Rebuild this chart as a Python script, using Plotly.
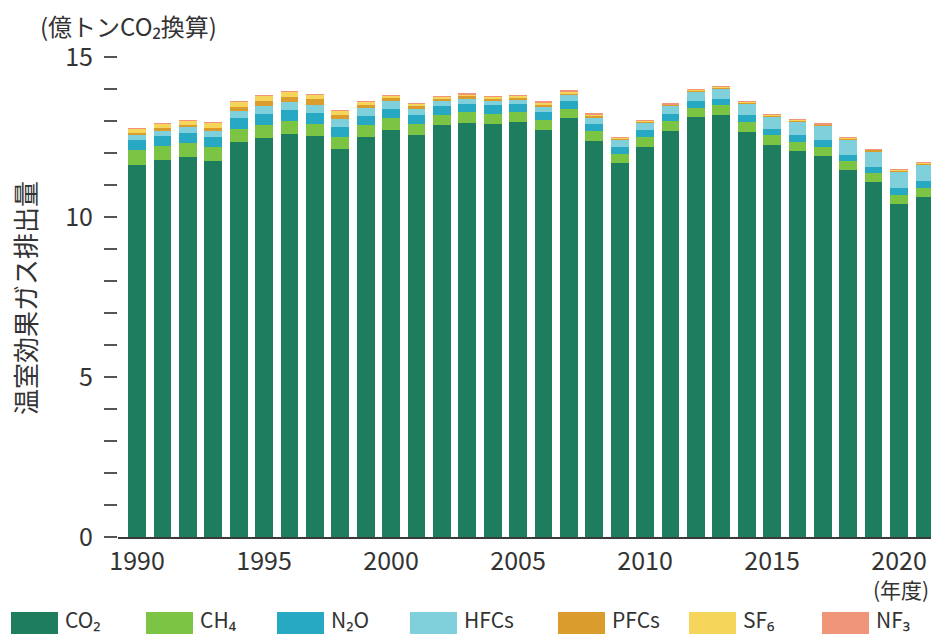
import plotly.graph_objects as go

# ---- data (億トンCO2換算) ----
years = list(range(1990, 2022))
co2 = [11.64, 11.77, 11.86, 11.75, 12.34, 12.46, 12.59, 12.53, 12.12, 12.50,
       12.72, 12.56, 12.86, 12.95, 12.90, 12.96, 12.72, 13.08, 12.38, 11.68,
       12.20, 12.70, 13.12, 13.19, 12.67, 12.26, 12.06, 11.91, 11.46, 11.08,
       10.42, 10.64]
ch4 = [0.45, 0.44, 0.44, 0.43, 0.42, 0.42, 0.40, 0.39, 0.38, 0.37,
       0.36, 0.35, 0.34, 0.33, 0.33, 0.32, 0.32, 0.31, 0.31, 0.30,
       0.30, 0.30, 0.30, 0.30, 0.30, 0.29, 0.29, 0.29, 0.29, 0.28,
       0.28, 0.27]
n2o = [0.32, 0.32, 0.32, 0.32, 0.33, 0.33, 0.34, 0.34, 0.32, 0.30,
       0.30, 0.27, 0.26, 0.26, 0.26, 0.25, 0.25, 0.24, 0.23, 0.22,
       0.22, 0.21, 0.21, 0.21, 0.21, 0.21, 0.20, 0.20, 0.20, 0.20,
       0.20, 0.20]
hfcs = [0.16, 0.17, 0.18, 0.19, 0.21, 0.25, 0.25, 0.25, 0.24, 0.24,
        0.23, 0.20, 0.16, 0.16, 0.12, 0.13, 0.15, 0.17, 0.19, 0.21,
        0.23, 0.26, 0.29, 0.32, 0.36, 0.39, 0.43, 0.45, 0.47, 0.50,
        0.52, 0.53]
pfcs = [0.066, 0.075, 0.077, 0.10, 0.13, 0.176, 0.178, 0.17, 0.14, 0.10,
        0.12, 0.10, 0.09, 0.09, 0.09, 0.086, 0.09, 0.074, 0.057, 0.040,
        0.042, 0.038, 0.030, 0.033, 0.034, 0.033, 0.034, 0.035, 0.035, 0.034,
        0.035, 0.035]
sf6 = [0.129, 0.14, 0.15, 0.16, 0.17, 0.164, 0.172, 0.15, 0.13, 0.09,
       0.07, 0.06, 0.06, 0.05, 0.05, 0.05, 0.05, 0.046, 0.04, 0.025,
       0.024, 0.022, 0.022, 0.021, 0.021, 0.021, 0.021, 0.021, 0.020, 0.020,
       0.020, 0.021]
nf3 = [0.0003, 0.0003, 0.0004, 0.0004, 0.0006, 0.002, 0.002, 0.002, 0.002, 0.002,
       0.003, 0.003, 0.004, 0.006, 0.011, 0.015, 0.023, 0.028, 0.017, 0.014,
       0.015, 0.017, 0.013, 0.016, 0.013, 0.006, 0.006, 0.004, 0.003, 0.003,
       0.003, 0.003]

gas_names = ["CO₂", "CH₄", "N₂O", "HFCs", "PFCs", "SF₆", "NF₃"]
gas_values = [co2, ch4, n2o, hfcs, pfcs, sf6, nf3]
gas_colors = ["#1e7c5f", "#7cc443", "#27a9c4", "#80d0dc",
              "#d99c2d", "#f6d65a", "#f0947a"]

x_ticks = [1990, 1995, 2000, 2005, 2010, 2015, 2020]
y_title = "温室効果ガス排出量"
unit_label = "(億トンCO₂換算)"
year_label = "(年度)"

# ---- layout geometry ----
W, H = 931, 635
ML, MR, MT, MB = 118, 0, 41, 98
PW, PH = W - ML - MR, H - MT - MB
FONT = "Noto Sans CJK JP, Noto Sans, sans-serif"
TXT = "#333333"


def px2x(px):
    return (px - ML) / PW


def px2y(py):
    return (H - MB - py) / PH


fig = go.Figure()
for name, vals, col in zip(gas_names, gas_values, gas_colors):
    fig.add_trace(go.Bar(x=years, y=vals, name=name, marker_color=col,
                         marker_line_width=0))

# custom legend (wide swatches)
leg_x = [11, 146, 277, 410, 558, 689, 822]
shapes = []
annotations = []
for lx, name, col in zip(leg_x, gas_names, gas_colors):
    shapes.append(dict(type="rect", xref="paper", yref="paper",
                       x0=px2x(lx), x1=px2x(lx + 47),
                       y0=px2y(634), y1=px2y(612),
                       fillcolor=col, line_width=0))
    annotations.append(dict(xref="paper", yref="paper", x=px2x(lx + 52),
                            y=px2y(619), xanchor="left", yanchor="middle",
                            text=name, showarrow=False,
                            font=dict(family=FONT, size=21, color=TXT)))

annotations.append(dict(xref="paper", yref="paper", x=px2x(25), y=px2y(298),
                        text=y_title, textangle=-90, showarrow=False,
                        xanchor="center", yanchor="middle",
                        font=dict(family=FONT, size=26, color=TXT)))
annotations.append(dict(xref="paper", yref="paper", x=px2x(38), y=px2y(25),
                        text=unit_label, showarrow=False,
                        xanchor="left", yanchor="middle",
                        font=dict(family=FONT, size=24, color=TXT)))
annotations.append(dict(xref="paper", yref="paper", x=px2x(931), y=px2y(589),
                        text=year_label, showarrow=False,
                        xanchor="right", yanchor="middle",
                        font=dict(family=FONT, size=21, color=TXT)))

fig.update_layout(
    width=W, height=H,
    margin=dict(l=ML, r=MR, t=MT, b=MB, pad=0),
    barmode="stack", bargap=0.3,
    plot_bgcolor="white", paper_bgcolor="white",
    showlegend=False,
    shapes=shapes, annotations=annotations,
    font=dict(family=FONT, color=TXT),
)
fig.update_xaxes(range=[1989.25, 2021.26], tickvals=x_ticks, ticks="",
                 showgrid=False, zeroline=False, showline=True,
                 linecolor="#3a3a3a", linewidth=2,
                 tickfont=dict(family=FONT, size=25, color=TXT),
                 ticklabelstandoff=1)
fig.update_yaxes(range=[0, 15.5], tickvals=[0, 5, 10, 15], ticks="outside",
                 ticklen=13, tickwidth=2, tickcolor="#555555",
                 minor=dict(tickvals=list(range(0, 16)), ticks="outside",
                            ticklen=13, tickwidth=2, tickcolor="#555555"),
                 showgrid=False, zeroline=False, showline=False,
                 tickfont=dict(family=FONT, size=25, color=TXT),
                 ticklabelstandoff=6)

fig.write_html(
    "out.html",
    config={"displayModeBar": False},
    post_script="document.body.style.margin='0';document.body.style.overflow='hidden';",
)
